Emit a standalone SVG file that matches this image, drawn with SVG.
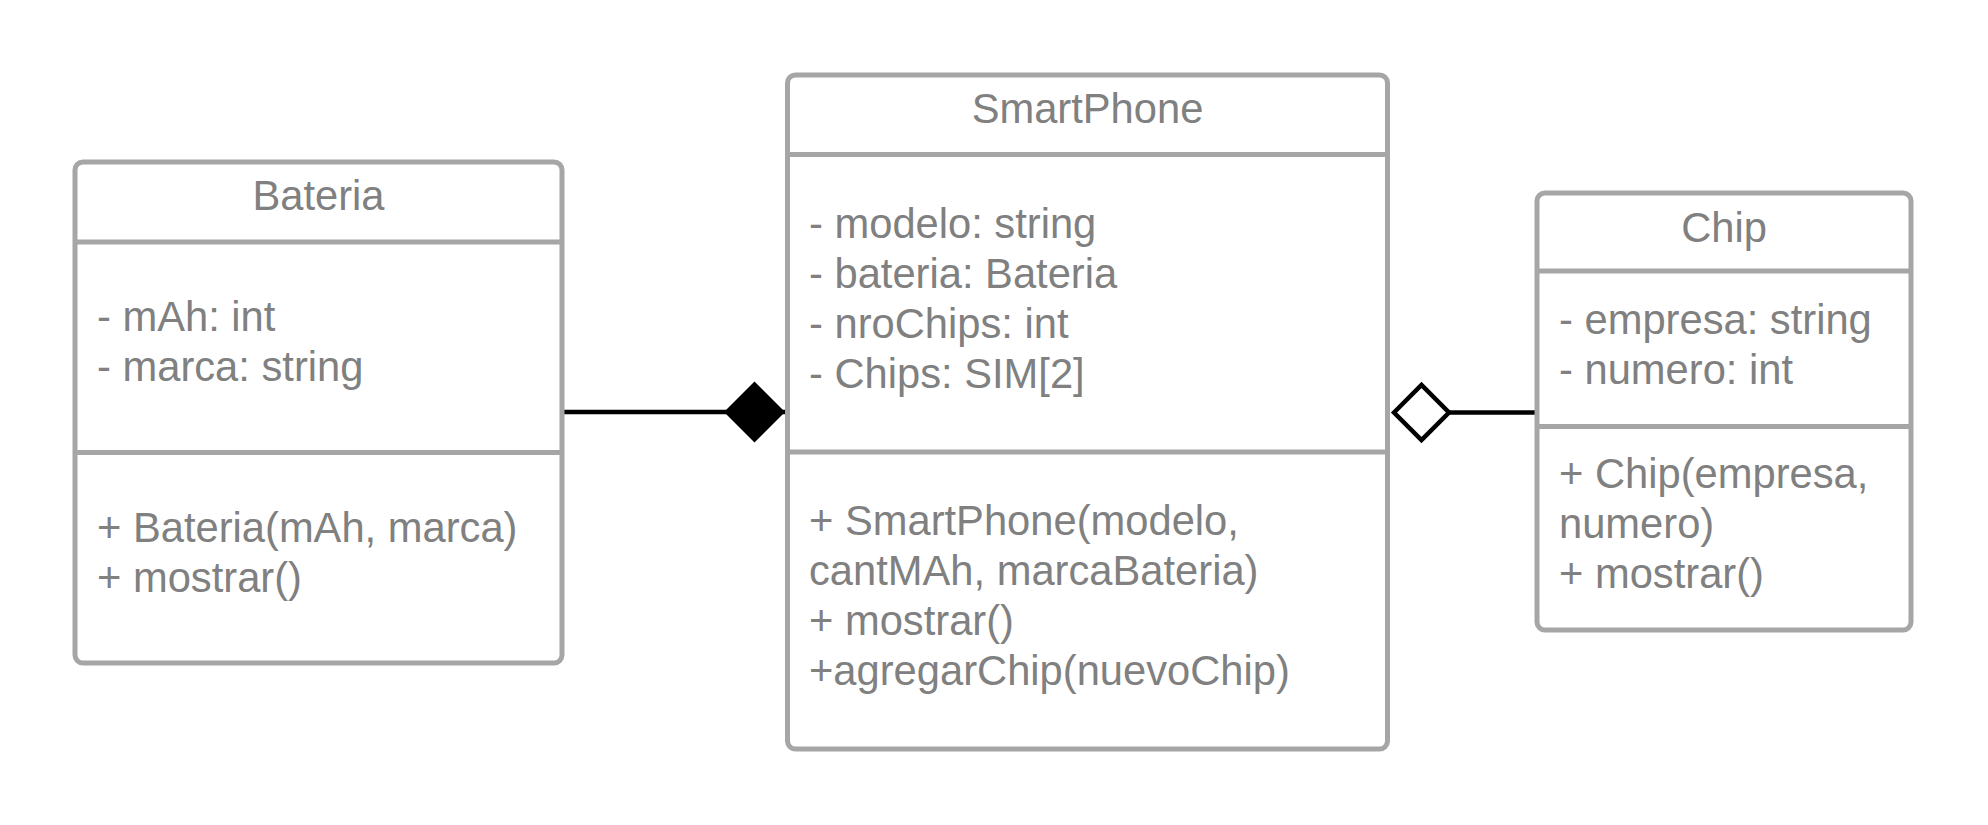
<svg xmlns="http://www.w3.org/2000/svg" width="1988" height="825" viewBox="0 0 1988 825">
  <style>
    .box { fill: #ffffff; stroke: #a6a6a6; stroke-width: 5; }
    .div { stroke: #a6a6a6; stroke-width: 5; }
    .t { font-family: "Liberation Sans", Arial, sans-serif; font-size: 41.7px; fill: #808080; }
    .title { text-anchor: middle; }
    .conn { stroke: #000000; stroke-width: 4.5; fill: none; }
  </style>
  <defs>
    <marker id="filledDiamond" markerUnits="userSpaceOnUse" viewBox="-2 -34 66 68" refX="0" refY="0" markerWidth="66" markerHeight="68" orient="auto">
      <polygon points="0,0 30.5,-30.5 61,0 30.5,30.5" fill="#000000"/>
    </marker>
    <marker id="openDiamond" markerUnits="userSpaceOnUse" viewBox="-4 -32 64 64" refX="0" refY="0" markerWidth="64" markerHeight="64" orient="auto">
      <polygon points="0,0 27.5,-27.5 55,0 27.5,27.5" fill="#ffffff" stroke="#000000" stroke-width="4.5"/>
    </marker>
  </defs>
  <rect width="1988" height="825" fill="#ffffff"/>

  <g id="connectors">
    <path class="conn" d="M785,412 L564,412" marker-start="url(#filledDiamond)"/>
    <path class="conn" d="M1394,412.5 L1535,412.5" marker-start="url(#openDiamond)"/>
  </g>

  <g id="Bateria">
    <rect class="box" x="75" y="162" width="487" height="501" rx="8"/>
    <line class="div" x1="75" y1="242" x2="562" y2="242"/>
    <line class="div" x1="75" y1="452.5" x2="562" y2="452.5"/>
    <text class="t title" x="318.5" y="210">Bateria</text>
    <text class="t" x="97" y="330.5">- mAh: int</text>
    <text class="t" x="97" y="380.5">- marca: string</text>
    <text class="t" x="97" y="541.5">+ Bateria(mAh, marca)</text>
    <text class="t" x="97" y="591.5">+ mostrar()</text>
  </g>

  <g id="SmartPhone">
    <rect class="box" x="787.5" y="75" width="600" height="674" rx="8"/>
    <line class="div" x1="787.5" y1="154.5" x2="1387.5" y2="154.5"/>
    <line class="div" x1="787.5" y1="452" x2="1387.5" y2="452"/>
    <text class="t title" x="1087.5" y="123">SmartPhone</text>
    <text class="t" x="809" y="237.5">- modelo: string</text>
    <text class="t" x="809" y="287.7">- bateria: Bateria</text>
    <text class="t" x="809" y="338">- nroChips: int</text>
    <text class="t" x="809" y="388.3">- Chips: SIM[2]</text>
    <text class="t" x="809" y="535">+ SmartPhone(modelo,</text>
    <text class="t" x="809" y="585">cantMAh, marcaBateria)</text>
    <text class="t" x="809" y="635">+ mostrar()</text>
    <text class="t" x="809" y="685">+agregarChip(nuevoChip)</text>
  </g>

  <g id="Chip">
    <rect class="box" x="1537" y="193" width="374" height="437" rx="8"/>
    <line class="div" x1="1537" y1="271" x2="1911" y2="271"/>
    <line class="div" x1="1537" y1="426.5" x2="1911" y2="426.5"/>
    <text class="t title" x="1724" y="241.5">Chip</text>
    <text class="t" x="1559" y="334">- empresa: string</text>
    <text class="t" x="1559" y="384">- numero: int</text>
    <text class="t" x="1559" y="487.5">+ Chip(empresa,</text>
    <text class="t" x="1559" y="537.5">numero)</text>
    <text class="t" x="1559" y="587.5">+ mostrar()</text>
  </g>
</svg>
